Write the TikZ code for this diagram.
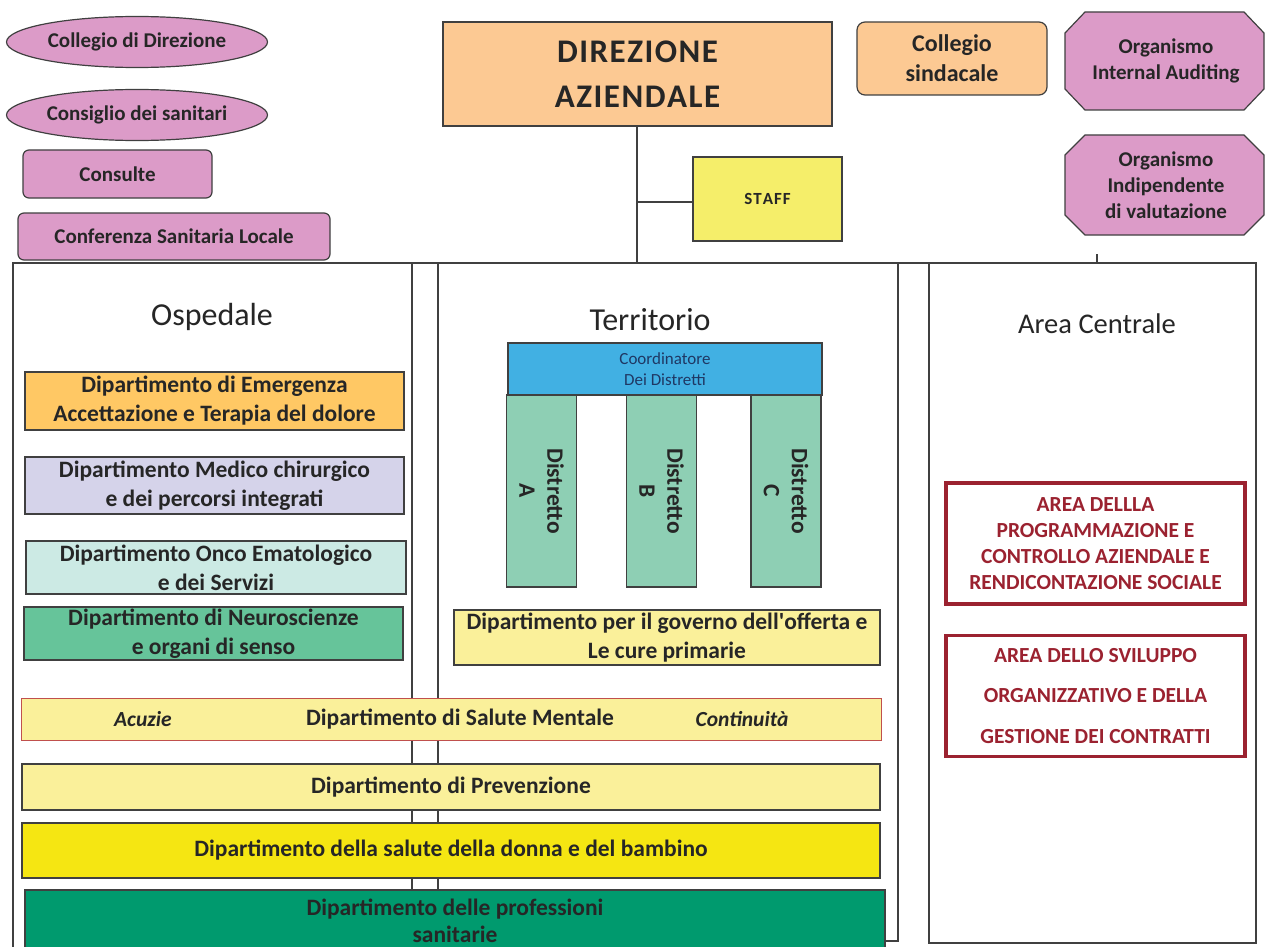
\documentclass[tikz,border=0pt]{standalone}
\usepackage{fontspec}
\setmainfont{Carlito}
\usetikzlibrary{shapes.geometric,shapes.misc}
\definecolor{txt}{HTML}{262626}
\definecolor{edge}{HTML}{404040}
\definecolor{pink}{HTML}{DC9BC8}
\definecolor{peach}{HTML}{FCC993}
\definecolor{staffy}{HTML}{F5EE6A}
\definecolor{emerg}{HTML}{FFC864}
\definecolor{lav}{HTML}{D5D3EA}
\definecolor{lcyan}{HTML}{CCEAE4}
\definecolor{neuro}{HTML}{66C49A}
\definecolor{sky}{HTML}{41B0E3}
\definecolor{dist}{HTML}{8ECFB4}
\definecolor{lyel}{HTML}{FAF09A}
\definecolor{byel}{HTML}{F5E612}
\definecolor{teal}{HTML}{009A6E}
\definecolor{dred}{HTML}{9B2230}
\definecolor{sred}{HTML}{C0504D}
\definecolor{coordtxt}{HTML}{1F3864}
\newcommand{\fs}[2]{\fontsize{#1}{#2}\selectfont}
\newcommand{\ls}{\kern1.5pt}
% octagon outline: x1 y1 x2 y2 chamfer-x chamfer-y
\newcommand{\octopath}[6]{\filldraw[draw=edge, line width=1.2pt, fill=pink]
  (#1+#5,#2) -- (#3-#5,#2) -- (#3,#2+#6) -- (#3,#4-#6) -- (#3-#5,#4) -- (#1+#5,#4) -- (#1,#4-#6) -- (#1,#2+#6) -- cycle;}
\tikzset{
  base/.style={draw=edge, line width=1.2pt, text=txt, align=center, inner sep=0pt, font=\bfseries\fs{21}{26}},
  pinkell/.style={base, ellipse, fill=pink, minimum width=261pt, minimum height=51pt},
  pinkrr/.style={base, rounded corners=6pt, fill=pink, rectangle},
  octotext/.style={text=txt, align=center, inner sep=0pt, font=\bfseries\fs{21}{26}},
  dept/.style={base, rectangle, font=\bfseries\fs{23.5}{29}, text=txt},
  area/.style={draw=edge, line width=1.2pt},
  distbox/.style={base, fill=dist, minimum width=70pt, minimum height=192pt},
  distlbl/.style={rotate=-90, align=center, font=\bfseries\fs{23.5}{28}, text=txt},
  redbox/.style={draw=dred, line width=3.5pt, text=dred, align=center, inner sep=0pt, font=\bfseries\fs{21.5}{26}, minimum width=299pt, minimum height=121pt},
  ttl/.style={font=\fs{32}{36}, text=txt},
  conn/.style={draw=edge, line width=1.5pt}
}
\begin{document}
\begin{tikzpicture}[x=1pt,y=-1pt]
\useasboundingbox (0,0) rectangle (1266,947);
\fill[white] (0,0) rectangle (1266,947);
% area frames
\draw[area] (13,950) -- (13,263) -- (412,263) -- (412,950);
\draw[area] (438,950) |- (898,263) -- (898,941) -- (438,941);
\draw[area] (929,263) rectangle (1256,943);
% top-left bodies
\node[pinkell] (cdd) at (137,42) {Collegio di Direzione};
\node[pinkell] (cds) at (137,115) {Consiglio dei sanitari};
\node[pinkrr, minimum width=189pt, minimum height=48pt] (cons) at (117.5,174) {Consulte};
\node[pinkrr, minimum width=312pt, minimum height=47pt] (csl) at (174,236.5) {Conferenza Sanitaria Locale};
% direction
\node[base, rectangle, fill=peach, minimum width=389pt, minimum height=104pt, font=\bfseries\fs{33}{45}] (dir) at (637.5,74) {D\ls I\ls R\ls E\ls Z\ls I\ls O\ls N\ls E\\A\ls Z\ls I\ls E\ls N\ls D\ls A\ls L\ls E};
\node[base, rounded corners=8pt, rectangle, fill=peach, minimum width=190pt, minimum height=73pt, font=\bfseries\fs{24}{30}] (csin) at (952,58.5) {Collegio\\sindacale};
\octopath{1065}{12}{1264}{110}{20}{21}
\node[octotext] (oia) at (1166,61) {Organismo\\Internal Auditing};
\octopath{1065}{135}{1264}{235}{20}{20}
\node[octotext] (oiv) at (1166,185.5) {Organismo\\Indipendente\\di valutazione};
\node[base, rectangle, fill=staffy, minimum width=149pt, minimum height=84pt, font=\bfseries\fs{17}{20}] (staff) at (767.5,199) {S\kern1pt T\kern1pt A\kern1pt F\kern1pt F};
% connectors
\coordinate (hl) at (200,263);
\coordinate (hm) at (637,263);
\coordinate (hr) at (1097,263);
\coordinate (ht) at (1097,254);
\coordinate (sb) at (637,202);
\draw[conn] (dir.south -| hm) -- (hm);
\draw[conn] (sb) -- (sb -| staff.west);
\draw[conn] (hl) -- (hr) -- (ht);
% titles
\node[ttl] (tosp) at (212,317) {Ospedale};
\node[ttl] (tter) at (650,320) {Territorio};
\node[font=\fs{28.5}{32}, text=txt] (tac) at (1097,324) {Area Centrale};
% ospedale departments
\node[dept, fill=emerg, minimum width=379pt, minimum height=58pt] (d1) at (214.5,401) {Dipartimento di Emergenza\\Accettazione e Terapia del dolore};
\node[dept, fill=lav, minimum width=379pt, minimum height=57pt] (d2) at (214.5,485.5) {Dipartimento Medico chirurgico\\e dei percorsi integrati};
\node[dept, fill=lcyan, minimum width=380pt, minimum height=53pt] (d3) at (216,567.5) {Dipartimento Onco Ematologico\\e dei Servizi};
\node[dept, fill=neuro, minimum width=379pt, minimum height=53pt] (d4) at (213.5,633.5) {Dipartimento di Neuroscienze\\e organi di senso};
% territorio
\node[base, rectangle, fill=sky, minimum width=314pt, minimum height=52pt, font=\fs{17}{21}, text=coordtxt] (coord) at (665,369) {Coordinatore\\Dei Distretti};
\node[distbox] (da) at (541.5,491) {};
\node[distbox] (db) at (661.5,491) {};
\node[distbox] (dc) at (786,491) {};
\node[distlbl] (tda) at (541.5,491) {Distretto\\A};
\node[distlbl] (tdb) at (661.5,491) {Distretto\\B};
\node[distlbl] (tdc) at (786,491) {Distretto\\C};
\node[dept, fill=lyel, minimum width=426pt, minimum height=55pt, text depth=4pt] (dgov) at (667,637.5) {Dipartimento per il governo dell\textquotesingle offerta e\\Le cure primarie};
% bands
\node[dept, draw=sred, line width=0.8pt, fill=lyel, minimum width=860pt, minimum height=42pt] (dsm) at (451,719) {};
\node[font=\bfseries\fs{23.5}{29}, text=txt] (dsmt) at (460,719) {Dipartimento di Salute Mentale};
\node[font=\bfseries\itshape\fs{21.5}{25}, text=txt] (acu) at (143,719) {Acuzie};
\node[font=\bfseries\itshape\fs{21.5}{25}, text=txt] (cont) at (742,719) {Continuità};
\node[dept, fill=lyel, minimum width=858pt, minimum height=46pt] (dprev) at (451,787) {Dipartimento di Prevenzione};
\node[dept, fill=byel, minimum width=858pt, minimum height=55pt] (ddon) at (451,850.5) {Dipartimento della salute della donna e del bambino};
\node[dept, fill=teal, minimum width=860pt, minimum height=62pt, font=\bfseries\fs{23.5}{27}] (dprof) at (455,921) {Dipartimento delle professioni\\sanitarie};
% area centrale
\node[redbox] (apc) at (1095.5,543.5) {AREA DELLLA\\PROGRAMMAZIONE E\\CONTROLLO AZIENDALE E\\RENDICONTAZIONE SOCIALE};
\node[redbox, font=\bfseries\fs{21.5}{40.5}] (asv) at (1095.5,696) {AREA DELLO SVILUPPO\\ORGANIZZATIVO E DELLA\\GESTIONE DEI CONTRATTI};
\end{tikzpicture}
\end{document}
